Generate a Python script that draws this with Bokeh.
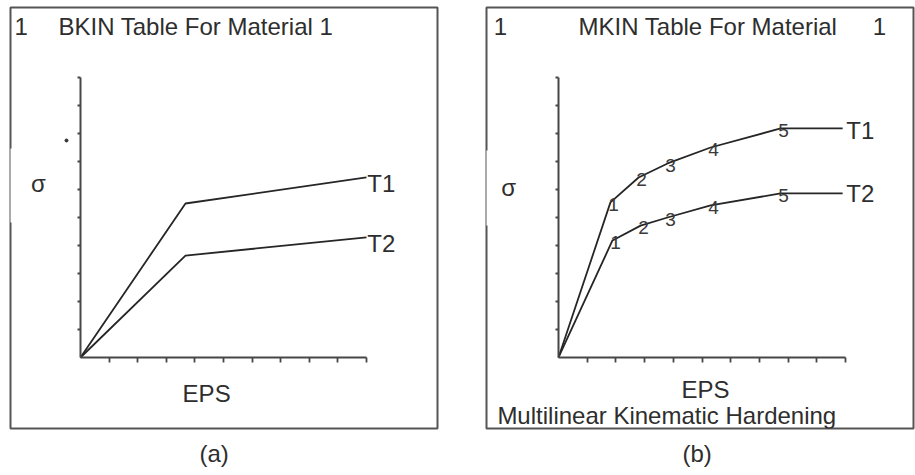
from bokeh.plotting import figure
from bokeh.layouts import row
from bokeh.models import Range1d, FixedTicker, Label, BoxAnnotation
from bokeh.core.properties import value
from bokeh.embed import file_html
from bokeh.resources import INLINE

# ---------------- data ----------------
tick_positions = [1, 2, 3, 4, 5, 6, 7, 8, 9, 10]

# (a) bilinear kinematic hardening (BKIN)
bkin_eps = [0.0, 3.67, 10.0]
bkin_sig_t1 = [0.0, 5.50, 6.43]
bkin_sig_t2 = [0.0, 3.64, 4.29]
stray_dot_x = [-0.49]
stray_dot_y = [7.75]

# (b) multilinear kinematic hardening (MKIN)
mkin_eps_t1 = [0.0, 1.81, 2.79, 3.80, 5.30, 7.74, 9.9]
mkin_sig_t1 = [0.0, 5.54, 6.43, 6.93, 7.50, 8.18, 8.18]
mkin_eps_t2 = [0.0, 1.88, 2.86, 3.80, 5.30, 7.74, 9.9]
mkin_sig_t2 = [0.0, 4.18, 4.71, 5.00, 5.43, 5.86, 5.86]
point_ids = ["1", "2", "3", "4", "5"]

FONT = "Liberation Sans"
TXT = "#2e2e2e"
BIG = "24px"


def make_panel(width, mb_left, mb_right, xr, yr, caption, cap_offset):
    p = figure(width=width, height=475, output_backend="svg", toolbar_location=None,
               x_range=Range1d(*xr), y_range=Range1d(*yr),
               min_border_left=mb_left, min_border_right=mb_right,
               min_border_top=7, min_border_bottom=47,
               title=caption, title_location="below")
    p.title.align = "left"
    p.title.text_font = FONT
    p.title.text_font_size = BIG
    p.title.text_font_style = "normal"
    p.title.text_color = TXT
    p.title.offset = cap_offset
    p.title.standoff = 18
    p.grid.visible = False
    p.outline_line_color = "#555555"
    p.outline_line_width = 2
    p.background_fill_color = "white"
    p.border_fill_color = "white"
    for ax in (p.xaxis[0], p.yaxis[0]):
        ax.fixed_location = 0
        ax.bounds = (0, 10)
        ax.ticker = FixedTicker(ticks=tick_positions, minor_ticks=[])
        ax.major_label_text_color = None
        ax.major_tick_in = 0
        ax.minor_tick_in = 0
        ax.minor_tick_out = 0
        ax.axis_line_color = "#474747"
        ax.axis_line_width = 2
        ax.major_tick_line_color = "#474747"
        ax.major_tick_line_width = 1.8
    p.xaxis[0].major_tick_out = 5
    p.yaxis[0].major_tick_out = 3
    return p


def txt(p, x, y, s, align="left", size=BIG):
    p.add_layout(Label(x=x, y=y, text=s, text_font=FONT, text_font_size=size,
                       text_color=TXT, text_align=align, text_baseline="middle"))


def gap(p, x0, x1, y0, y1):
    p.add_layout(BoxAnnotation(left=x0, right=x1, bottom=y0, top=y1,
                               fill_color="white", fill_alpha=1.0, line_color=None,
                               level="overlay"))


def point_labels(p, xs, ys):
    p.text(xs[1:6], ys[1:6], text=point_ids, text_font=value(FONT),
           text_font_size="19px", text_color="#3a3a3a", text_align="center",
           text_baseline="middle", x_offset=3, y_offset=2)


# ---------------- panel (a) ----------------
pa = make_panel(457, 10, 20, (-2.448, 12.483), (-2.536, 12.5), "(a)", 189)
pa.line(bkin_eps, bkin_sig_t1, line_color="#262626", line_width=1.8)
pa.line(bkin_eps, bkin_sig_t2, line_color="#262626", line_width=1.8)
pa.scatter(stray_dot_x, stray_dot_y, size=3, color="#333333")
gap(pa, -2.6, -2.3, 4.82, 7.46)
txt(pa, -2.31, 11.82, "1")
txt(pa, -0.77, 11.82, "BKIN Table For Material 1")
txt(pa, -1.47, 6.21, "σ", "center")
txt(pa, 10.03, 6.21, "T1")
txt(pa, 10.03, 4.07, "T2")
txt(pa, 4.41, -1.29, "EPS", "center")

# ---------------- panel (b) ----------------
pb = make_panel(458, 29, 2, (-2.509, 12.369), (-2.536, 12.5), "(b)", 196)
pb.line(mkin_eps_t1, mkin_sig_t1, line_color="#262626", line_width=1.8)
pb.line(mkin_eps_t2, mkin_sig_t2, line_color="#262626", line_width=1.8)
point_labels(pb, mkin_eps_t1, mkin_sig_t1)
point_labels(pb, mkin_eps_t2, mkin_sig_t2)
gap(pb, -2.7, -2.35, 4.71, 7.39)
txt(pb, -2.26, 11.82, "1")
txt(pb, 0.70, 11.82, "MKIN Table For Material")
txt(pb, 10.95, 11.82, "1")
txt(pb, -1.74, 6.07, "σ", "center")
txt(pb, 10.03, 8.11, "T1")
txt(pb, 10.03, 5.86, "T2")
txt(pb, 5.12, -1.14, "EPS", "center")
txt(pb, -2.13, -2.07, "Multilinear Kinematic Hardening")

layout = row(pa, pb)
open("out.html", "w").write(file_html(layout, INLINE))
